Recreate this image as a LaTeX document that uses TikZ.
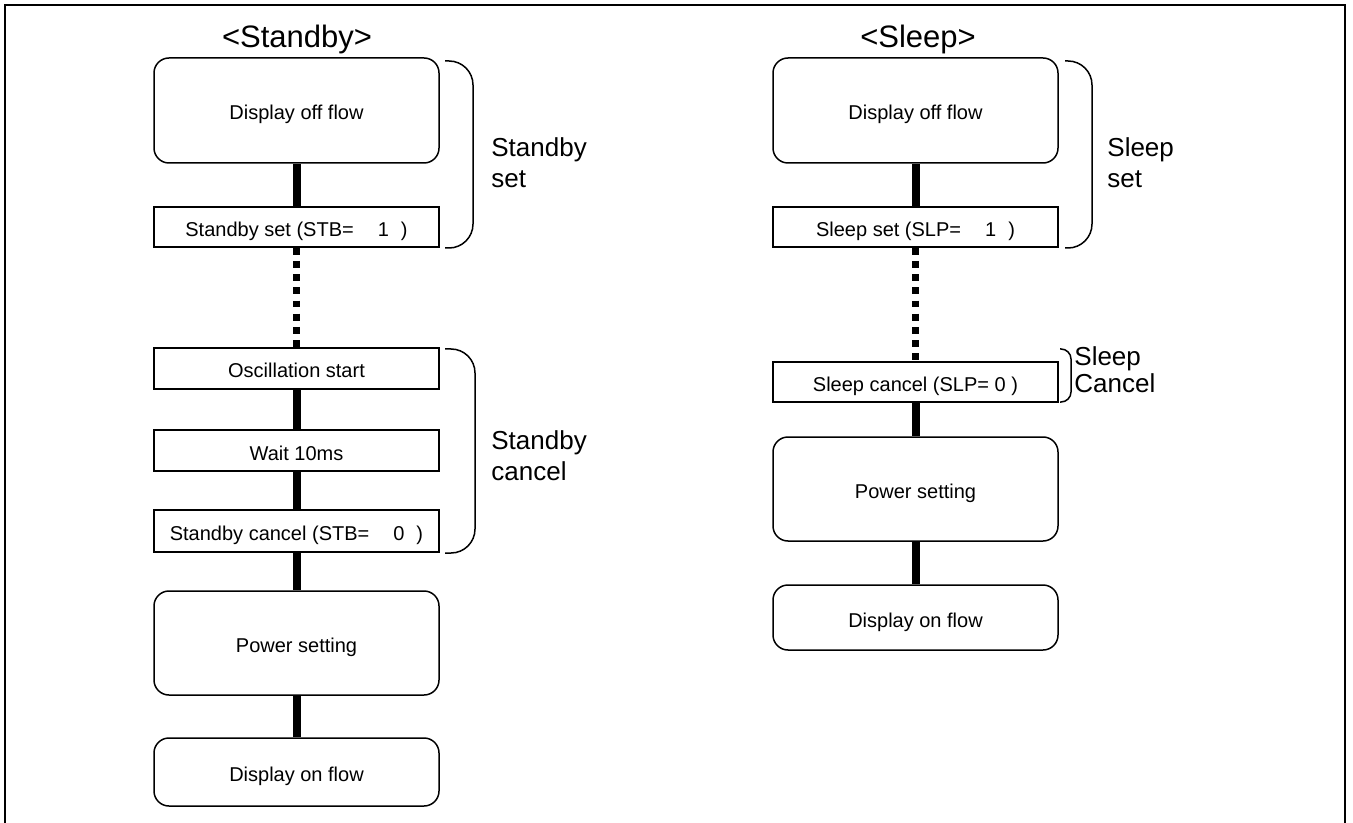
\documentclass[tikz,border=0pt]{standalone}
\usepackage{fontspec}
\setmainfont{Liberation Sans}
\begin{document}
\begin{tikzpicture}[x=.5pt,y=-.5pt,
  flatbox/.style={draw,line width=.75pt,minimum width=142.5pt,minimum height=20pt,inner sep=0pt,
    text height=9.5pt,text depth=0pt,font=\fontsize{10}{12}\selectfont},
  roundbox/.style={flatbox,rounded corners=7.5pt},
  link/.style={line width=4pt},
  dotlink/.style={line width=3.5pt,dash pattern=on 3.4pt off 3.2pt},
  brace/.style={line width=.75pt,rounded corners=12pt},
  title/.style={anchor=base,font=\fontsize{15.5}{18}\selectfont},
  side/.style={anchor=west,align=left,inner sep=0pt,font=\fontsize{13}{15.5}\selectfont}]
\path[use as bounding box] (0,0) rectangle (1353,823);
\draw[line width=1pt] (5,823) -- (5,5) -- (1345,5) -- (1345,823);

% Standby column
\node[title] (tStb) at (297,48) {<Standby>};
\node[roundbox,minimum height=52.5pt] (dofL) at (296.5,110.5) {Display off flow};
\node[flatbox] (ssetL) at (296.5,227) {Standby set (STB=\hspace{12pt}1\hspace{6pt})};
\node[flatbox,minimum height=20.5pt] (oscL) at (296.5,368.5) {Oscillation start};
\node[flatbox,minimum height=20.5pt] (waitL) at (296.5,450.5) {Wait 10ms};
\node[flatbox,minimum height=21pt] (scanL) at (296.5,531) {Standby cancel (STB=\hspace{12pt}0\hspace{6pt})};
\node[roundbox,minimum height=52pt] (pwrL) at (296.5,643) {Power setting};
\node[roundbox,minimum height=34pt] (donL) at (296.5,772) {Display on flow};
\draw[link] (dofL.south) -- (ssetL.north);
\draw[dotlink] (ssetL.south) -- (oscL.north);
\draw[link] (oscL.south) -- (waitL.north);
\draw[link] (waitL.south) -- (scanL.north);
\draw[link] (scanL.south) -- (pwrL.north);
\draw[link] (pwrL.south) -- (donL.north);
\draw[brace] (445,61) -- (473,61) -- (473,248) -- (445,248);
\draw[brace] (445,349) -- (475,349) -- (475,553) -- (445,553);
\node[side] (lSet) at (491,163) {Standby\\set};
\node[side] (lCan) at (491,456) {Standby\\cancel};

% Sleep column
\node[title] (tSlp) at (918,48) {<Sleep>};
\node[roundbox,minimum height=52.5pt] (dofR) at (915.5,110.5) {Display off flow};
\node[flatbox] (ssetR) at (915.5,227) {Sleep set (SLP=\hspace{12pt}1\hspace{6pt})};
\node[flatbox] (scanR) at (915.5,382) {Sleep cancel (SLP= 0 )};
\node[roundbox,minimum height=52pt] (pwrR) at (915.5,489) {Power setting};
\node[roundbox,minimum height=32.5pt] (donR) at (915.5,617.5) {Display on flow};
\draw[link] (dofR.south) -- (ssetR.north);
\draw[dotlink] (ssetR.south) -- (scanR.north);
\draw[link] (scanR.south) -- (pwrR.north);
\draw[link] (pwrR.south) -- (donR.north);
\draw[brace] (1065,61) -- (1092,61) -- (1092,248) -- (1065,248);
\draw[brace,rounded corners=5pt] (1060,349) -- (1071,349) -- (1071,402) -- (1060,402);
\node[side] (rSet) at (1107,163) {Sleep\\set};
\node[side,font=\fontsize{13}{13.5}\selectfont] (rCan) at (1074,369.5) {Sleep\\Cancel};
\end{tikzpicture}
\end{document}
